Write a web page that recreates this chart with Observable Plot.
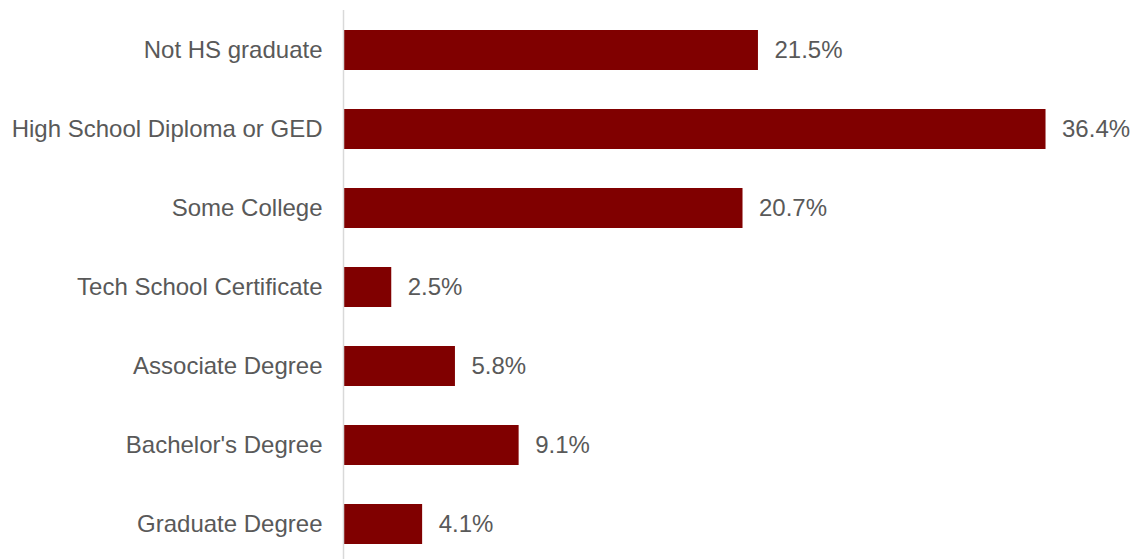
<!DOCTYPE html>
<html>
<head>
<meta charset="utf-8">
<script src="https://cdn.jsdelivr.net/npm/d3@7"></script>
<script src="https://cdn.jsdelivr.net/npm/@observablehq/plot@0.6"></script>
<style>
  html, body { margin: 0; padding: 0; background: #fff; }
</style>
</head>
<body>
<div id="chart"></div>
<script>
const categories = [
  "Not HS graduate",
  "High School Diploma or GED",
  "Some College",
  "Tech School Certificate",
  "Associate Degree",
  "Bachelor's Degree",
  "Graduate Degree"
];
const values = [21.5, 36.4, 20.7, 2.5, 5.8, 9.1, 4.1];
const valueLabels = ["21.5%", "36.4%", "20.7%", "2.5%", "5.8%", "9.1%", "4.1%"];

const data = categories.map((c, i) => ({category: c, value: values[i], label: valueLabels[i]}));

const chart = Plot.plot({
  width: 1135,
  height: 559,
  marginLeft: 343,
  marginRight: 20,
  marginTop: 10,
  marginBottom: 0,
  style: {fontFamily: "'Liberation Sans', Arial, sans-serif", fontSize: "24px", color: "#595959", background: "#fff"},
  x: {domain: [0, 40], axis: null},
  y: {domain: categories, range: [9.3, 564.7], paddingInner: 0.5, paddingOuter: 0.25, label: null},
  marks: [
    Plot.barX(data, {y: "category", x: "value", fill: "#800000", insetLeft: 1}),
    Plot.ruleX([0], {stroke: "#d9d9d9", strokeWidth: 1.5}),
    Plot.text(data, {y: "category", x: "value", text: "label", textAnchor: "start", dx: 16, fill: "#595959", fontSize: 24}),
    Plot.axisY({tickSize: 0, tickPadding: 21, fontSize: 24, fill: "#595959", label: null})
  ]
});
document.getElementById("chart").appendChild(chart);
</script>
</body>
</html>
